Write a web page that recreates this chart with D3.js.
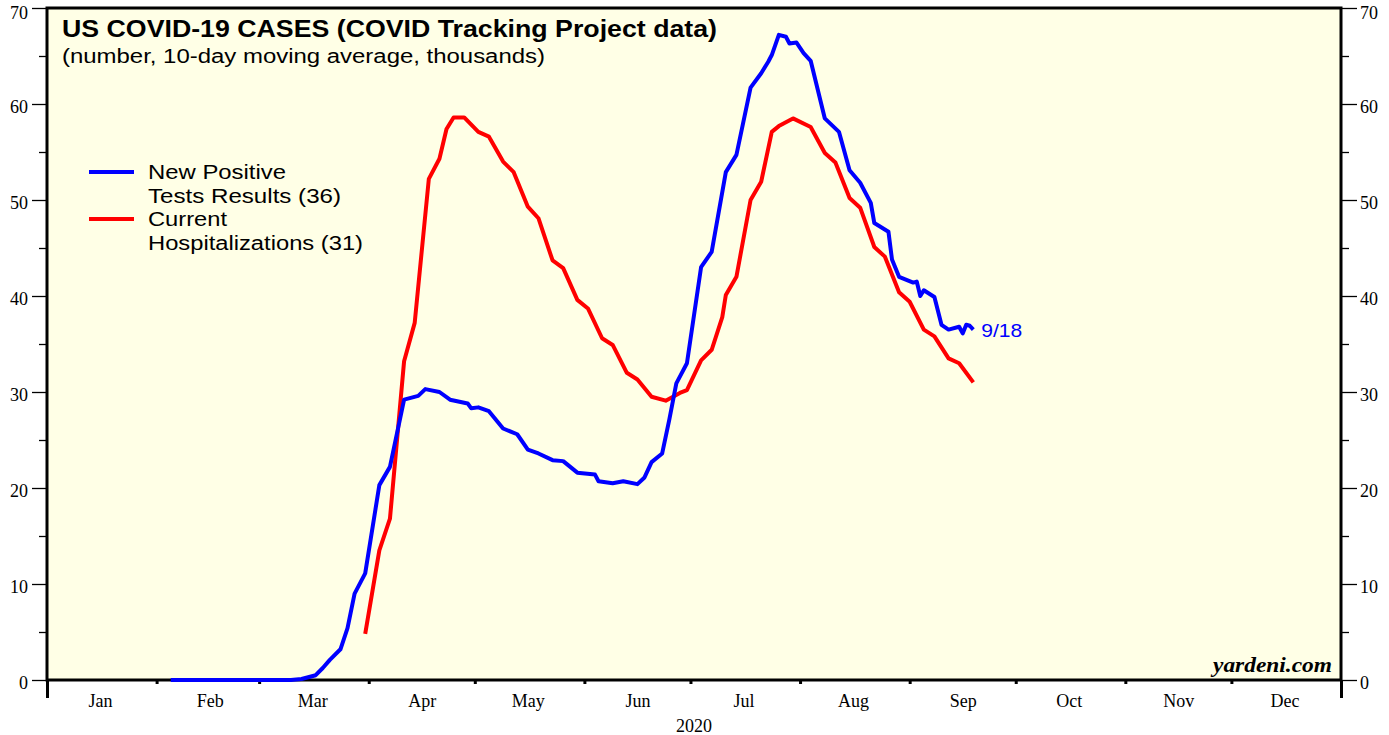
<!DOCTYPE html>
<html>
<head>
<meta charset="utf-8">
<script src="https://cdn.jsdelivr.net/npm/d3@7"></script>
<style>
  body { margin: 0; background: #fff; }
  svg text { font-family: "Liberation Serif", "Times New Roman", serif; }
  .sans { font-family: "Liberation Sans", Arial, sans-serif !important; }
</style>
</head>
<body>
<div class="chart"></div>
<script>
// month labels on the bottom axis
var monthLabels = ["Jan","Feb","Mar","Apr","May","Jun","Jul","Aug","Sep","Oct","Nov","Dec"];
var yTicks = [0, 10, 20, 30, 40, 50, 60, 70];

// New positive test results, 10-day avg, thousands
var posDates = ["2020-02-05","2020-03-10","2020-03-13","2020-03-17","2020-03-19","2020-03-21","2020-03-24","2020-03-26",
  "2020-03-28","2020-03-31","2020-04-04","2020-04-07","2020-04-11","2020-04-15","2020-04-17","2020-04-21",
  "2020-04-24","2020-04-29","2020-04-30","2020-05-02","2020-05-05","2020-05-09","2020-05-13","2020-05-16",
  "2020-05-19","2020-05-23","2020-05-26","2020-05-30","2020-06-04","2020-06-05","2020-06-09","2020-06-12",
  "2020-06-16","2020-06-18","2020-06-20","2020-06-23","2020-06-25","2020-06-27","2020-06-30","2020-07-04",
  "2020-07-07","2020-07-11","2020-07-14","2020-07-18","2020-07-21","2020-07-23","2020-07-24","2020-07-26",
  "2020-07-28","2020-07-29","2020-07-31","2020-08-02","2020-08-04","2020-08-08","2020-08-12","2020-08-15",
  "2020-08-18","2020-08-21","2020-08-22","2020-08-26","2020-08-27","2020-08-29","2020-09-02","2020-09-03",
  "2020-09-04","2020-09-05","2020-09-08","2020-09-10","2020-09-12","2020-09-15","2020-09-16","2020-09-17",
  "2020-09-18","2020-09-19"];
var posValues = [0, 0, 0.1, 0.5, 1.25, 2.1, 3.2, 5.4,
  9.0, 11.1, 20.3, 22.2, 29.2, 29.6, 30.3, 30.0,
  29.2, 28.8, 28.3, 28.4, 28.0, 26.2, 25.6, 24.0,
  23.6, 22.9, 22.8, 21.6, 21.4, 20.7, 20.5, 20.7,
  20.4, 21.1, 22.7, 23.6, 27.1, 30.9, 33.0, 43.0,
  44.6, 52.9, 54.7, 61.7, 63.2, 64.4, 65.1, 67.2,
  67.0, 66.3, 66.4, 65.3, 64.5, 58.5, 57.1, 53.1,
  51.8, 49.7, 47.6, 46.7, 43.8, 42.0, 41.4, 41.5,
  40.0, 40.6, 39.9, 37.0, 36.5, 36.8, 36.1, 37.0,
  36.9, 36.5];

// Current hospitalizations, thousands
var hospDates = ["2020-03-31","2020-04-04","2020-04-07","2020-04-11","2020-04-14","2020-04-18","2020-04-21","2020-04-23",
  "2020-04-25","2020-04-28","2020-05-02","2020-05-05","2020-05-09","2020-05-12","2020-05-16","2020-05-19",
  "2020-05-23","2020-05-26","2020-05-30","2020-06-02","2020-06-06","2020-06-09","2020-06-13","2020-06-16",
  "2020-06-20","2020-06-24","2020-06-28","2020-06-30","2020-07-04","2020-07-07","2020-07-10","2020-07-11",
  "2020-07-14","2020-07-18","2020-07-21","2020-07-24","2020-07-26","2020-07-30","2020-08-04","2020-08-08",
  "2020-08-11","2020-08-15","2020-08-18","2020-08-22","2020-08-25","2020-08-29","2020-09-01","2020-09-05",
  "2020-09-08","2020-09-12","2020-09-15","2020-09-19"];
var hospValues = [4.8, 13.5, 16.8, 33.2, 37.2, 52.2, 54.3, 57.4,
  58.6, 58.6, 57.1, 56.6, 54.0, 52.9, 49.3, 48.1,
  43.7, 42.9, 39.6, 38.7, 35.6, 34.9, 32.0, 31.3,
  29.5, 29.1, 29.9, 30.2, 33.3, 34.4, 37.8, 40.1,
  42.0, 50.0, 51.9, 57.1, 57.7, 58.5, 57.6, 54.9,
  53.9, 50.2, 49.2, 45.1, 44.1, 40.4, 39.4, 36.5,
  35.8, 33.5, 33.0, 31.0];

var W = 1389, H = 735;
var pLeft = 47, pRight = 1341, pTop = 8, pBottom = 680;
var parse = d3.timeParse("%Y-%m-%d");

var x = d3.scaleTime()
  .domain([new Date(2020, 0, 1), new Date(2021, 0, 1)])
  .range([pLeft, pRight]);
var y = d3.scaleLinear().domain([0, 70]).range([pBottom, pTop]);

var svg = d3.select(".chart").append("svg")
  .attr("width", W)
  .attr("height", H);

// plot background
svg.append("rect")
  .attr("x", pLeft).attr("y", pTop)
  .attr("width", pRight - pLeft).attr("height", pBottom - pTop)
  .style("fill", "#ffffe6");

// left axis: minor then major
var minorVals = d3.range(5, 70, 10);
svg.append("g").attr("transform", "translate(" + pLeft + ",0)")
  .call(d3.axisLeft(y).tickValues(minorVals).tickSize(8).tickFormat(""))
  .call(function(g){ g.select(".domain").remove(); });
var yl = svg.append("g").attr("transform", "translate(" + pLeft + ",0)")
  .call(d3.axisLeft(y).tickValues(yTicks).tickSize(15).tickPadding(4));
yl.select(".domain").remove();

svg.append("g").attr("transform", "translate(" + pRight + ",0)")
  .call(d3.axisRight(y).tickValues(minorVals).tickSize(8).tickFormat(""))
  .call(function(g){ g.select(".domain").remove(); });
var yr = svg.append("g").attr("transform", "translate(" + pRight + ",0)")
  .call(d3.axisRight(y).tickValues(yTicks).tickSize(16).tickPadding(3));
yr.select(".domain").remove();

svg.selectAll(".tick line").style("stroke", "#000").style("stroke-width", 1.3);
svg.selectAll(".tick text").style("font-size", "18px").style("fill", "#000")
  .style("font-family", "'Liberation Serif', serif")
  .attr("dy", function(d){ return d === 70 ? "0.6em" : "0.45em"; });

// bottom axis: month boundary ticks
var monthStarts = d3.timeMonth.range(new Date(2020, 1, 1), new Date(2020, 11, 2));
var xb = svg.append("g").attr("transform", "translate(0," + pBottom + ")")
  .call(d3.axisBottom(x).tickValues(monthStarts).tickSize(4).tickFormat(""));
xb.select(".domain").remove();
xb.selectAll("line").style("stroke", "#000").style("stroke-width", 3);

// long end ticks
var ends = svg.append("g").attr("transform", "translate(0," + pBottom + ")")
  .call(d3.axisBottom(x).tickValues([new Date(2020, 0, 1), new Date(2021, 0, 1)]).tickSize(18).tickFormat(""));
ends.select(".domain").remove();
ends.selectAll("line").style("stroke", "#000").style("stroke-width", 3);

// month labels mid month
var midMonths = monthLabels.map(function(m, i){ return new Date(2020, i, 16); });
var xl = svg.append("g").attr("transform", "translate(0," + pBottom + ")")
  .call(d3.axisBottom(x).tickValues(midMonths).tickSize(0).tickPadding(14)
    .tickFormat(function(d, i){ return monthLabels[i]; }));
xl.select(".domain").remove();
xl.selectAll("text").style("font-size", "18px").style("fill", "#000")
  .style("font-family", "'Liberation Serif', serif");

svg.append("text")
  .attr("x", (pLeft + pRight) / 2).attr("y", 732)
  .attr("text-anchor", "middle")
  .style("font-size", "18px")
  .text("2020");

// frame
svg.append("rect")
  .attr("x", pLeft).attr("y", pTop)
  .attr("width", pRight - pLeft).attr("height", pBottom - pTop)
  .style("fill", "none").style("stroke", "#000").style("stroke-width", 3);

// lines
var line = d3.line()
  .x(function(d){ return x(d.date); })
  .y(function(d){ return y(d.value); });

var posData = posDates.map(function(d, i){ return { date: parse(d), value: posValues[i] }; });
var hospData = hospDates.map(function(d, i){ return { date: parse(d), value: hospValues[i] }; });

svg.append("path").datum(hospData)
  .attr("d", line)
  .style("fill", "none").style("stroke", "#ff0000").style("stroke-width", 4)
  .style("stroke-linejoin", "round");
svg.append("path").datum(posData)
  .attr("d", line)
  .style("fill", "none").style("stroke", "#0000ff").style("stroke-width", 4)
  .style("stroke-linejoin", "round");

var last = posData[posData.length - 1];
svg.append("text").attr("class", "sans")
  .attr("x", x(last.date) + 8).attr("y", y(last.value) + 7)
  .attr("textLength", 41).attr("lengthAdjust", "spacingAndGlyphs")
  .style("font-size", "19px").style("fill", "#0000ff")
  .text("9/18");

// titles
svg.append("text").attr("class", "sans")
  .attr("x", 62).attr("y", 37)
  .attr("textLength", 655).attr("lengthAdjust", "spacingAndGlyphs")
  .style("font-size", "23px").style("font-weight", "bold")
  .text("US COVID-19 CASES (COVID Tracking Project data)");
svg.append("text").attr("class", "sans")
  .attr("x", 62).attr("y", 63)
  .attr("textLength", 483).attr("lengthAdjust", "spacingAndGlyphs")
  .style("font-size", "20px")
  .text("(number, 10-day moving average, thousands)");

// legend
var legend = [
  { color: "#0000ff", lines: ["New Positive", "Tests Results (36)"], widths: [138, 193], y: 172 },
  { color: "#ff0000", lines: ["Current", "Hospitalizations (31)"], widths: [79, 215], y: 219 }
];
legend.forEach(function(l){
  svg.append("line")
    .attr("x1", 89).attr("x2", 134).attr("y1", l.y).attr("y2", l.y)
    .style("stroke", l.color).style("stroke-width", 4);
  l.lines.forEach(function(t, i){
    svg.append("text").attr("class", "sans")
      .attr("x", 148).attr("y", l.y + 7 + i * 24)
      .attr("textLength", l.widths[i]).attr("lengthAdjust", "spacingAndGlyphs")
      .style("font-size", "20px").style("fill", "#000")
      .text(t);
  });
});

svg.append("text")
  .attr("x", 1213).attr("y", 672)
  .attr("textLength", 119).attr("lengthAdjust", "spacingAndGlyphs")
  .style("font-size", "21px").style("font-weight", "bold").style("font-style", "italic")
  .text("yardeni.com");
</script>
</body>
</html>
